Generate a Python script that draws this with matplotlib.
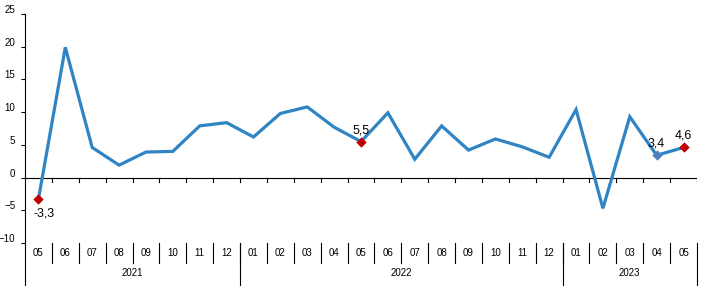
import matplotlib.pyplot as plt
import matplotlib.transforms as mtransforms

plt.rcParams["font.family"] = ["Liberation Sans", "DejaVu Sans"]

# data
months = ["05", "06", "07", "08", "09", "10", "11", "12",
          "01", "02", "03", "04", "05", "06", "07", "08", "09", "10", "11", "12",
          "01", "02", "03", "04", "05"]
years = ["2021", "2022", "2023"]
year_counts = [8, 12, 5]
values = [-3.3, 19.9, 4.6, 1.9, 3.9, 4.0, 7.9, 8.4,
          6.2, 9.8, 10.8, 7.7, 5.5, 9.9, 2.8, 7.9, 4.2, 5.9, 4.7, 3.1,
          10.4, -4.7, 9.3, 3.4, 4.6]
red_points = [0, 12, 24]
blue_points = [23]
yticks = [-10, -5, 0, 5, 10, 15, 20, 25]

line_color = "#2F84C4"
red = "#C00000"
light_blue = "#4F81BD"

fig = plt.figure(figsize=(7.03, 2.88), dpi=100)
ax = fig.add_axes([25 / 703, 1 - 243 / 288, 672 / 703, 229 / 288])

x = [i + 0.5 for i in range(len(values))]
ax.plot(x, values, color=line_color, lw=2.3, solid_joinstyle="miter", zorder=3)
ax.scatter([x[i] for i in red_points], [values[i] for i in red_points],
           marker="D", s=28, color=red, zorder=4, linewidths=0)
ax.scatter([x[i] for i in blue_points], [values[i] for i in blue_points],
           marker="D", s=28, color=light_blue, zorder=4, linewidths=0)

# data labels
for i in red_points + blue_points:
    v = values[i]
    txt = ("%.1f" % v).replace(".", ",")
    if v < 0:
        ax.annotate(txt, (x[i], v), xytext=(4, -6), textcoords="offset points",
                    ha="center", va="top", fontsize=9)
    else:
        ax.annotate(txt, (x[i], v), xytext=(0, 4), textcoords="offset points",
                    ha="center", va="bottom", fontsize=9)

ax.set_xlim(0, len(values))
ax.set_ylim(-10, 25)
for s in ["top", "right", "bottom"]:
    ax.spines[s].set_visible(False)
ax.spines["left"].set_linewidth(0.8)

ax.set_xticks([])
ax.set_yticks(yticks)
ax.tick_params(axis="y", length=3, width=0.8, pad=4, labelsize=7)
shift = mtransforms.ScaledTranslation(0, 5 / 100, fig.dpi_scale_trans)
for lbl in ax.get_yticklabels():
    lbl.set_transform(lbl.get_transform() + shift)

# zero axis with category tick marks
ax.axhline(0, color="black", lw=0.8, zorder=2)
for k in range(1, len(values) + 1):
    ax.plot([k, k], [0, -0.75], color="black", lw=0.8, zorder=2)

# category labels below the plot
trans = mtransforms.blended_transform_factory(ax.transData, ax.transAxes)
for i, m in enumerate(months):
    ax.text(i + 0.5, -0.045, m, transform=trans, ha="center", va="center",
            fontsize=7)
for k in range(1, len(values)):
    ax.plot([k, k], [0, -0.087], transform=trans, color="black", lw=0.8,
            clip_on=False)

start = 0
for yr, n in zip(years, year_counts):
    ax.text(start + n / 2, -0.131, yr, transform=trans, ha="center",
            va="center", fontsize=7)
    ax.plot([start, start], [0, -0.183], transform=trans, color="black",
            lw=0.8, clip_on=False)
    start += n
ax.plot([start, start], [0, -0.183], transform=trans, color="black",
        lw=0.8, clip_on=False)

fig.savefig("out.png", dpi=100)
